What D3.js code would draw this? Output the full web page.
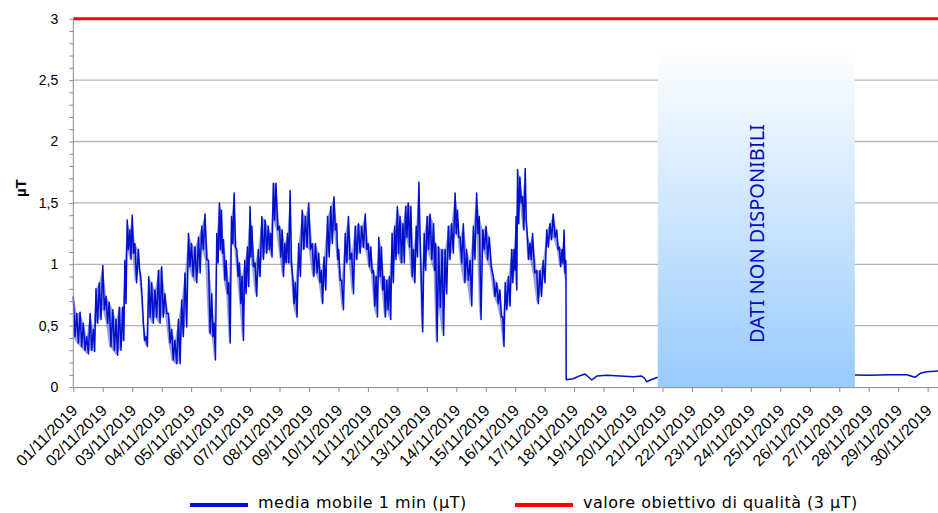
<!DOCTYPE html>
<html lang="it">
<head>
<meta charset="utf-8">
<script src="https://cdn.jsdelivr.net/npm/d3@7"></script>
<style>
body { margin: 0; background: #fff; }
svg { display: block; }
.axis path, .axis line { stroke: #8c8c8c; }
.axis text { font-family: "Liberation Sans", Arial, sans-serif; fill: #000; }
.legend text { font-family: "DejaVu Sans", sans-serif; font-size: 16px; letter-spacing: 0.5px; fill: #000; }
</style>
</head>
<body>
<div id="chart"></div>
<script>

// readings: day offset from 01/11/2019 00:00, upper and lower edge of the 1-min trace (µT)
var dayOff = [0.00,0.115,0.23,0.34,0.455,0.57,0.68,0.77,0.88,1.00,1.11,1.22,1.34,1.45,1.56,1.68,1.75,1.83,1.92,2.00,
  2.09,2.21,2.29,2.38,2.47,2.56,2.66,2.77,2.89,3.00,3.11,3.23,3.34,3.45,3.57,3.68,3.79,3.91,4.01,4.13,
  4.25,4.36,4.47,4.59,4.70,4.78,4.87,4.96,5.03,5.10,5.19,5.28,5.37,5.46,5.55,5.64,5.73,5.82,5.91,6.00,
  6.06,6.17,6.28,6.40,6.51,6.62,6.70,6.79,6.88,7.00,7.09,7.18,7.27,7.36,7.45,7.54,7.65,7.77,7.88,7.99,
  8.11,8.22,8.33,8.42,8.51,8.63,8.74,8.85,8.94,9.01,9.11,9.23,9.34,9.45,9.57,9.68,9.79,9.91,10.01,10.10,
  10.19,10.28,10.37,10.46,10.55,10.64,10.73,10.82,10.91,11.00,11.09,11.19,11.28,11.37,11.46,11.55,11.64,11.73,11.81,11.91,
  12.01,12.11,12.23,12.30,12.40,12.52,12.62,12.73,12.84,12.96,13.04,13.13,13.24,13.35,13.47,13.58,13.69,13.78,13.90,14.01,
  14.12,14.26,14.37,14.48,14.58,14.66,14.77,14.88,14.96,15.03,15.08,15.16,15.25,15.34,15.41,15.50,15.59,15.73,15.84,15.95,
  16.07,16.18,16.29,16.41,16.50,16.59,16.66,16.72];
var hiVal = [.74,.60,.61,.52,.41,.60,.47,.80,.85,.99,.74,.69,.63,.55,.65,.65,1.03,1.36,1.28,1.40,
  1.17,1.12,.90,.52,.41,.90,.85,.79,.95,.98,.76,.60,.47,.38,.55,.71,.93,1.25,1.17,1.14,
  1.22,1.31,1.41,1.03,.76,.52,1.25,1.50,1.44,1.20,1.03,.85,1.39,1.58,1.12,1.01,.90,1.03,1.14,1.47,
  1.31,1.01,1.12,1.39,1.36,1.31,1.25,1.66,1.66,1.31,1.28,1.17,1.25,1.60,.90,.85,1.17,1.44,1.39,1.50,
  1.17,1.17,1.09,.95,1.06,1.39,1.47,1.55,1.33,1.12,.87,1.25,1.39,1.09,1.31,1.33,1.31,1.41,1.17,1.14,
  .95,.90,1.22,1.14,.90,.87,.90,1.25,1.31,1.47,1.39,1.33,1.47,1.50,1.47,1.12,1.31,1.67,.90,1.25,
  1.39,1.41,1.33,1.17,1.14,1.12,1.12,1.31,1.33,1.58,1.44,1.22,1.33,1.12,1.03,1.31,1.58,1.39,1.28,1.31,
  1.22,.90,.85,.79,.57,.85,.90,1.12,1.12,1.39,1.77,1.71,1.55,1.78,1.25,1.17,1.25,.95,.95,1.03,
  1.28,1.33,1.41,1.28,1.14,1.12,1.28,1.03];
var loVal = [.41,.36,.33,.30,.27,.30,.29,.52,.55,.63,.52,.33,.30,.26,.30,.38,.68,1.12,1.04,1.09,
  .85,.96,.74,.38,.33,.57,.52,.57,.52,.57,.60,.36,.22,.19,.19,.41,.49,.98,.90,.85,
  .93,1.12,1.04,.44,.41,.22,1.01,1.12,1.09,.87,.76,.36,1.17,1.14,.90,.68,.38,.76,.82,1.06,
  .98,.74,.90,1.04,1.09,1.12,1.06,1.36,1.28,1.06,.90,1.01,1.01,1.01,.68,.57,.90,1.12,1.14,1.12,
  .90,.93,.85,.68,.79,1.06,1.17,1.28,1.04,.87,.63,1.01,1.04,.76,1.04,1.09,1.14,1.12,.98,.93,
  .66,.57,.90,.79,.57,.63,.55,.85,1.04,1.09,1.01,1.01,1.22,1.14,.90,.85,1.06,1.25,.45,.95,
  1.12,1.04,.95,.37,.65,.42,.76,1.04,1.09,1.25,1.22,1.01,.85,.87,.66,1.04,1.25,.55,1.12,1.04,
  .98,.74,.68,.57,.33,.63,.66,.85,.95,.79,1.33,1.50,1.28,1.36,1.04,1.04,.93,.68,.74,.85,
  1.14,1.20,1.22,1.12,.98,1.01,.93,.80];

// after the drop: smooth low trace, null = missing data
var lowDay = [16.73,16.97,17.20,17.37,17.50,17.60,17.77,18.11,18.56,19.01,19.29,19.40,19.46,19.63,19.84,
  19.85,26.53,27.04,27.72,28.29,28.57,28.75,28.97,29.56,30.00];
var lowVal = [.06,.068,.093,.106,.08,.058,.09,.096,.09,.085,.09,.07,.044,.062,.08,
  null,.098,.096,.10,.10,.08,.112,.125,.133,.135];

// period with no data
var gapFrom = 19.84, gapTo = 26.53, gapTop = 2.78;

var qualityTarget = 3;
var yMajor = [0, 0.5, 1, 1.5, 2, 2.5, 3];
var seriesNames = ["media mobile 1 min (µT)", "valore obiettivo di qualità (3 µT)"];
var noDataText = "DATI NON DISPONIBILI";

var W = 938, H = 513;
var start = new Date(2019, 10, 1), end = new Date(2019, 11, 1);
var dayMs = 86400000;
function toDate(t) { return new Date(start.getTime() + t * dayMs); }

var x = d3.scaleTime().domain([start, end]).range([73.3, 957.1]);
var y = d3.scaleLinear().domain([0, 3]).range([387.1, 18.7]);

var svg = d3.select("#chart").append("svg")
    .attr("width", W)
    .attr("height", H);

var defs = svg.append("defs");
var grad = defs.append("linearGradient")
    .attr("id", "nodata")
    .attr("x1", 0).attr("y1", 0).attr("x2", 0).attr("y2", 1);
grad.append("stop").attr("offset", "0%").attr("stop-color", "#ffffff");
grad.append("stop").attr("offset", "100%").attr("stop-color", "#99cbfd");

// gridlines
svg.append("g")
  .selectAll("line")
  .data(yMajor.filter(function(d) { return d > 0 && d < 3; }))
  .enter().append("line")
    .attr("x1", 73.3).attr("x2", W)
    .attr("y1", function(d) { return y(d); })
    .attr("y2", function(d) { return y(d); })
    .attr("stroke", "#b4b4b4")
    .attr("stroke-width", 1.3);

// blue trace: band between the edges plus a zig-zag across them
var band = dayOff.map(function(t, i) { return { date: toDate(t), hi: hiVal[i], lo: loVal[i] }; });

svg.append("path")
    .datum(band)
    .attr("fill", "#1a28d0")
    .attr("fill-opacity", 0.45)
    .attr("d", d3.area()
      .x(function(d) { return x(d.date); })
      .y0(function(d) { return y(d.lo); })
      .y1(function(d) { return y(d.hi); }));

var pts = [];
dayOff.forEach(function(t, i) {
  var next = i < dayOff.length - 1 ? dayOff[i + 1] : t + 0.01;
  pts.push({ date: toDate(t), v: hiVal[i] });
  pts.push({ date: toDate((t + next) / 2), v: loVal[i] });
});
lowDay.forEach(function(t, i) {
  pts.push({ date: toDate(t), v: lowVal[i] });
});

var line = d3.line()
    .defined(function(d) { return d.v != null; })
    .x(function(d) { return x(d.date); })
    .y(function(d) { return y(d.v); });

svg.append("path")
    .datum(pts)
    .attr("fill", "none")
    .attr("stroke", "#0010cc")
    .attr("stroke-width", 1.5)
    .attr("stroke-linejoin", "round")
    .attr("d", line);

// no-data box
svg.append("rect")
    .attr("x", x(toDate(gapFrom)))
    .attr("y", y(gapTop))
    .attr("width", x(toDate(gapTo)) - x(toDate(gapFrom)))
    .attr("height", y(0) - y(gapTop))
    .attr("fill", "url(#nodata)");

svg.append("text")
    .attr("transform", "translate(" + ((x(toDate(gapFrom)) + x(toDate(gapTo))) / 2) + "," + y(1.25) + ") rotate(-90)")
    .attr("text-anchor", "middle")
    .attr("dy", "0.36em")
    .style("font-family", "'Noto Sans', sans-serif")
    .style("font-size", "20px")
    .style("fill", "#0a0acc")
    .text(noDataText);

// quality target
svg.append("line")
    .attr("x1", 73.3).attr("x2", W)
    .attr("y1", y(qualityTarget)).attr("y2", y(qualityTarget))
    .attr("stroke", "#ff0000")
    .attr("stroke-width", 3);

// y axis
var yAxis = svg.append("g")
    .attr("class", "axis")
    .attr("transform", "translate(73.3,0)")
    .call(d3.axisLeft(y)
      .tickValues(d3.range(0, 31).map(function(i) { return i / 10; }))
      .tickSize(4)
      .tickPadding(11)
      .tickFormat(function(d) {
        return yMajor.indexOf(d) >= 0 ? String(d).replace(".", ",") : "";
      }));
yAxis.select(".domain").attr("d", "M0," + y(3) + "V" + y(0));
yAxis.selectAll("text").style("font-size", "14px");

svg.append("text")
    .attr("transform", "translate(26," + y(1.62) + ") rotate(-90)")
    .attr("text-anchor", "middle")
    .style("font-family", "'Liberation Sans', Arial, sans-serif")
    .style("font-size", "15px")
    .style("font-weight", "bold")
    .text("µT");

// x axis
var xAxis = svg.append("g")
    .attr("class", "axis")
    .attr("transform", "translate(0," + y(0) + ")")
    .call(d3.axisBottom(x)
      .tickValues(d3.timeDay.range(start, end))
      .tickSize(5)
      .tickSizeOuter(0)
      .tickFormat(d3.timeFormat("%d/%m/%Y")));
xAxis.selectAll("text")
    .style("font-size", "16px")
    .style("text-anchor", "end")
    .attr("x", -14)
    .attr("y", 15)
    .attr("dy", "0.35em")
    .attr("transform", "rotate(-45)");

// legend
var legend = svg.append("g").attr("class", "legend");
var legItems = [
  { name: seriesNames[0], color: "#0010cc", x0: 190 },
  { name: seriesNames[1], color: "#ff0000", x0: 515 }
];
var li = legend.selectAll("g")
    .data(legItems)
  .enter().append("g")
    .attr("transform", function(d) { return "translate(" + d.x0 + ",505)"; });
li.append("line")
    .attr("x1", 0).attr("x2", 58)
    .attr("stroke", function(d) { return d.color; })
    .attr("stroke-width", 4);
li.append("text")
    .attr("x", 68)
    .attr("y", -2)
    .attr("dy", "0.32em")
    .text(function(d) { return d.name; });

</script>
</body>
</html>
